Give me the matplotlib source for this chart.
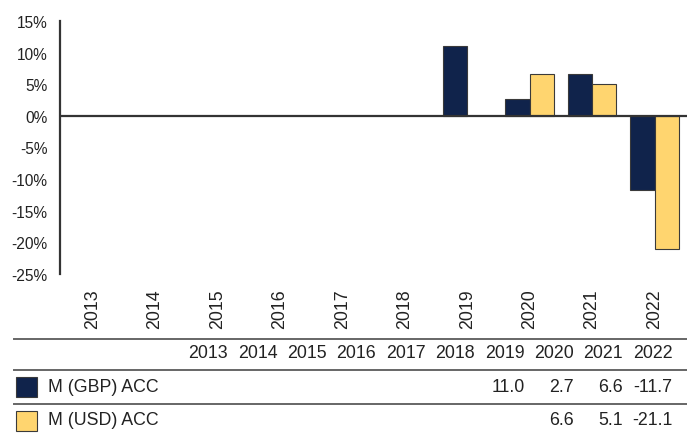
import numpy as np
import matplotlib
matplotlib.use("Agg")
import matplotlib.pyplot as plt
from matplotlib.lines import Line2D
from matplotlib.patches import Rectangle

plt.rcParams['font.family'] = ['Liberation Sans', 'DejaVu Sans']

# Data (annual returns, %)
years = ['2013', '2014', '2015', '2016', '2017', '2018', '2019', '2020', '2021', '2022']
series_names = ['M (GBP) ACC', 'M (USD) ACC']
gbp = [np.nan, np.nan, np.nan, np.nan, np.nan, np.nan, 11.0, 2.7, 6.6, -11.7]
usd = [np.nan, np.nan, np.nan, np.nan, np.nan, np.nan, np.nan, 6.6, 5.1, -21.1]
colors = ['#10234b', '#ffd56f']

W, H = 687, 435
fs = 12.8     # table text and year labels
fs_y = 11.2   # y tick labels


def fx(px):
    return px / W


def fy(py):
    return 1 - py / H


fig = plt.figure(figsize=(W / 100, H / 100), dpi=100)
ax = fig.add_axes([fx(60), fy(275), fx(687) - fx(60), fy(22) - fy(275)])

x = np.arange(len(years))
bw = 0.39
for i, (vals, c) in enumerate(zip([gbp, usd], colors)):
    ax.bar(x + (i - 0.5) * bw, vals, width=bw, color=c, edgecolor='#3a3a3a', linewidth=0.8, zorder=2)

ax.axhline(0, color='#333333', linewidth=1.6, zorder=3)
ax.set_xlim(-0.52, len(years) - 0.48)
ax.set_ylim(-25, 15)
ax.set_yticks(np.arange(-25, 16, 5))
ax.set_yticklabels([f'{v}%' for v in range(-25, 16, 5)], fontsize=fs_y, color='#222222')
ax.set_xticks(x)
ax.set_xticklabels(years, rotation=90, fontsize=fs, color='#222222')
ax.tick_params(axis='y', length=0, pad=9)
ax.tick_params(axis='x', length=0, pad=10)
for s in ['top', 'right', 'bottom']:
    ax.spines[s].set_visible(False)
ax.spines['left'].set_color('#333333')
ax.spines['left'].set_linewidth(1.6)

# table below the chart
for py in [340, 371, 405]:
    fig.add_artist(Line2D([fx(14), 1], [fy(py), fy(py)], color='#666666', linewidth=1.4))

col_right = [228 + 49.4 * i for i in range(len(years))]
for xr, yr in zip(col_right, years):
    fig.text(fx(xr), fy(354), yr, ha='right', va='center', fontsize=fs, color='#222222')

row_y = [388, 421]
sq_top = [378, 412]
for vals, name, c, ry, st in zip([gbp, usd], series_names, colors, row_y, sq_top):
    fig.add_artist(Rectangle((fx(16), fy(st + 20)), fx(20.5), fy(st) - fy(st + 20),
                             facecolor=c, edgecolor='#3a3a3a', linewidth=0.8))
    fig.text(fx(48), fy(ry), name, ha='left', va='center', fontsize=fs, color='#222222')
    for xr, v in zip(col_right, vals):
        if not np.isnan(v):
            fig.text(fx(xr), fy(ry), f'{v:.1f}', ha='right', va='center', fontsize=fs, color='#222222')

fig.savefig('out.png', dpi=100)
